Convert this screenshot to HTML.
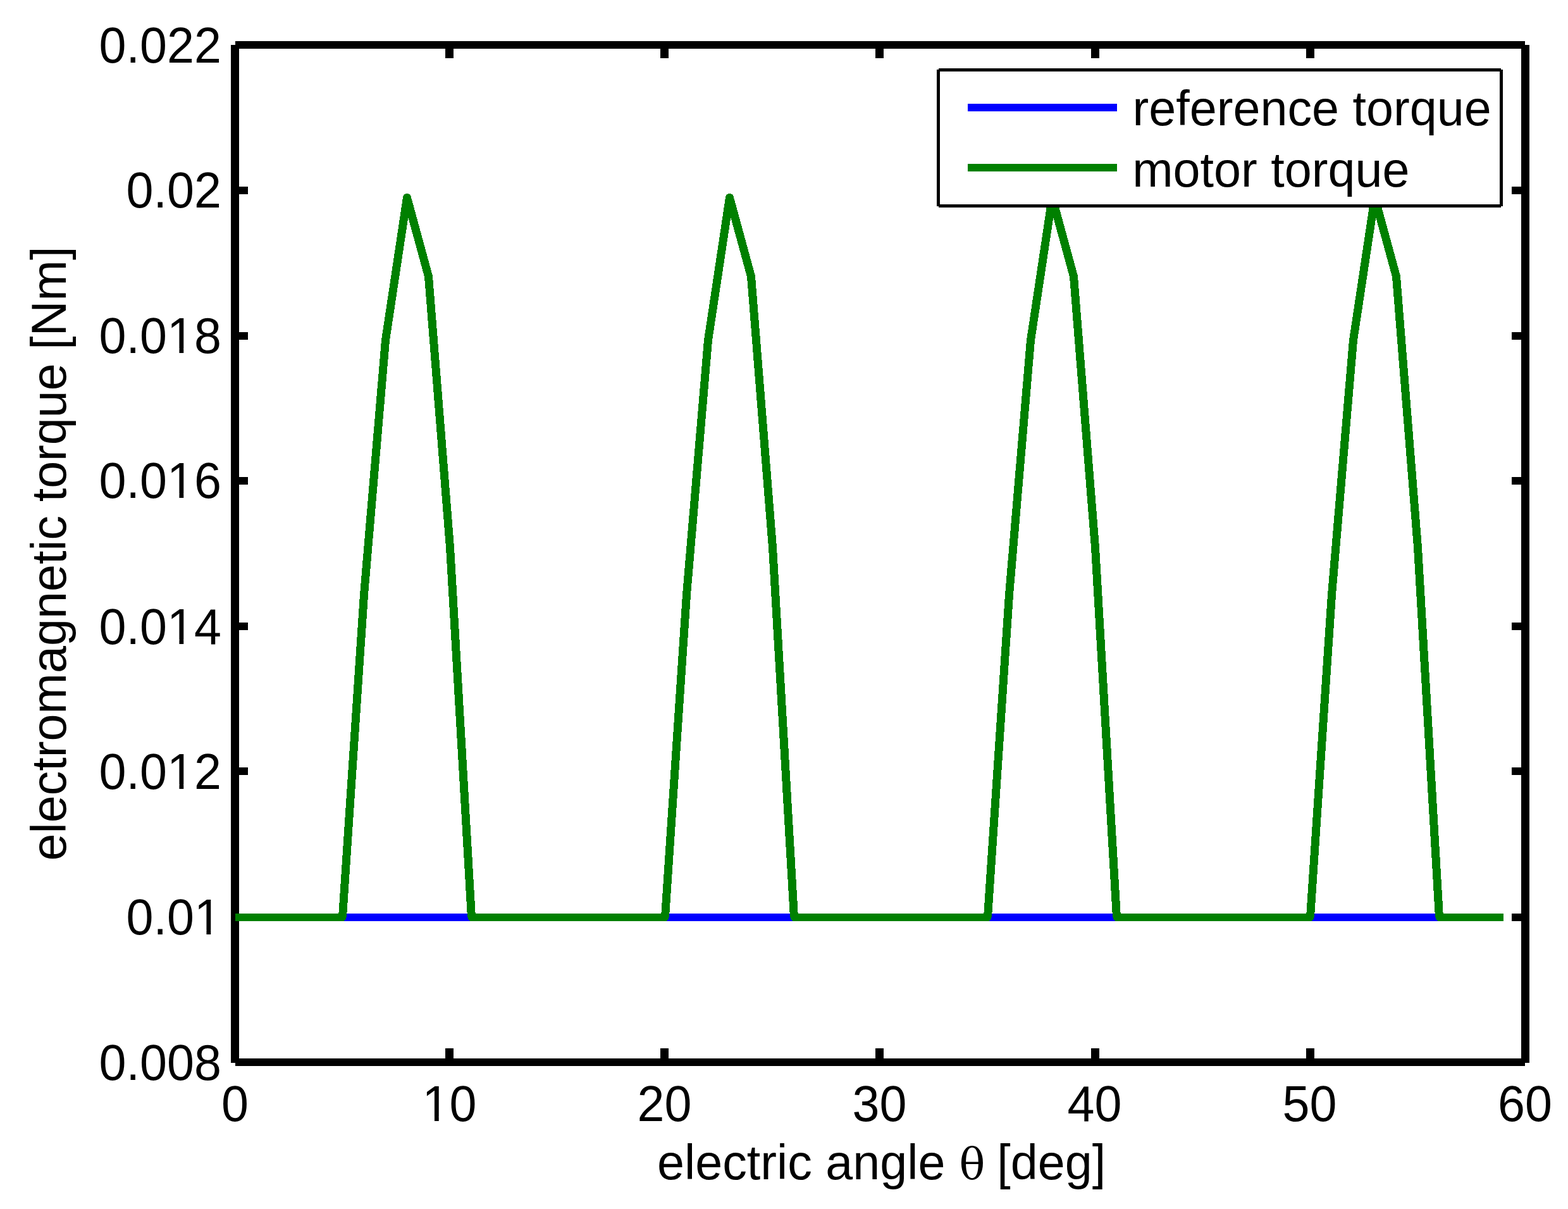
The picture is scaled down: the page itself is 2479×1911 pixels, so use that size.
<!DOCTYPE html>
<html lang="en">
<head>
<meta charset="utf-8">
<title>Electromagnetic torque vs electric angle</title>
<style>
html, body { margin: 0; padding: 0; background: #fff; }
body { width: 2479px; height: 1911px; }
svg { display: block; }
.t text { font-family: "Liberation Sans", sans-serif; font-size: 77.3px; fill: #000; }
.t .th { font-family: "DejaVu Serif", "Liberation Serif", serif; font-size: 68px; }
</style>
</head>
<body>
<svg width="2479" height="1911" viewBox="0 0 2479 1911">
<rect x="0" y="0" width="2479" height="1911" fill="#fff"/>
<g id="axes" fill="#000" shape-rendering="crispEdges">
<rect x="365" y="71" width="13" height="1609"/>
<rect x="2405" y="71" width="13" height="1609"/>
<rect x="372" y="65" width="2039" height="12"/>
<rect x="372" y="1673" width="2039" height="12"/>
<rect x="704" y="77" width="13" height="15"/>
<rect x="704" y="1657" width="13" height="16"/>
<rect x="1044" y="77" width="13" height="15"/>
<rect x="1044" y="1657" width="13" height="16"/>
<rect x="1384" y="77" width="13" height="15"/>
<rect x="1384" y="1657" width="13" height="16"/>
<rect x="1725" y="77" width="13" height="15"/>
<rect x="1725" y="1657" width="13" height="16"/>
<rect x="2065" y="77" width="13" height="15"/>
<rect x="2065" y="1657" width="13" height="16"/>
<rect x="378" y="295" width="14" height="12"/>
<rect x="2390" y="295" width="15" height="12"/>
<rect x="378" y="525" width="14" height="12"/>
<rect x="2390" y="525" width="15" height="12"/>
<rect x="378" y="754" width="14" height="12"/>
<rect x="2390" y="754" width="15" height="12"/>
<rect x="378" y="984" width="14" height="12"/>
<rect x="2390" y="984" width="15" height="12"/>
<rect x="378" y="1213" width="14" height="12"/>
<rect x="2390" y="1213" width="15" height="12"/>
<rect x="378" y="1444" width="14" height="12"/>
<rect x="2390" y="1444" width="15" height="12"/>
</g>
<g id="reference-torque" shape-rendering="crispEdges"><rect x="372" y="1444" width="2005" height="12" fill="#0000ff"/></g>
<clipPath id="above"><rect x="0" y="0" width="2479" height="1444"/></clipPath>
<g id="motor-torque" fill="none" stroke="#008000" stroke-linejoin="round" stroke-linecap="butt" shape-rendering="crispEdges"><polyline points="372,1450 541.5,1450 575.5,940 609.5,538 643.5,312.5 677.5,437 711.5,865 745.5,1450 1051.5,1450 1085.5,940 1119.5,538 1153.5,312.5 1187.5,437 1221.5,865 1255.5,1450 1561.5,1450 1595.5,940 1629.5,538 1663.5,312.5 1697.5,437 1731.5,865 1765.5,1450 2071.5,1450 2105.5,940 2139.5,538 2173.5,312.5 2207.5,437 2241.5,865 2275.5,1450 2377,1450" stroke-width="12"/><polyline points="372,1450 541.5,1450 575.5,940 609.5,538 643.5,312.5 677.5,437 711.5,865 745.5,1450 1051.5,1450 1085.5,940 1119.5,538 1153.5,312.5 1187.5,437 1221.5,865 1255.5,1450 1561.5,1450 1595.5,940 1629.5,538 1663.5,312.5 1697.5,437 1731.5,865 1765.5,1450 2071.5,1450 2105.5,940 2139.5,538 2173.5,312.5 2207.5,437 2241.5,865 2275.5,1450 2377,1450" stroke-width="13" clip-path="url(#above)"/></g>
<g id="legend" shape-rendering="crispEdges">
<rect x="1484" y="110" width="889" height="216" fill="#fff"/>
<rect x="1484" y="108" width="889" height="5" fill="#000"/>
<rect x="1484" y="323" width="889" height="5" fill="#000"/>
<rect x="1481" y="110" width="5" height="216" fill="#000"/>
<rect x="2371" y="110" width="5" height="216" fill="#000"/>
<rect x="1530" y="164" width="236" height="12" fill="#0000ff"/>
<rect x="1530" y="259" width="236" height="12" fill="#008000"/>
</g>
<g class="t">
<text transform="translate(1790.5,198.3) scale(1,1.015)">reference torque</text>
<text transform="translate(1790.2,294.5) scale(1,1.015)">motor torque</text>
<text transform="translate(350,98.8) scale(1,1.035)" text-anchor="end">0.022</text>
<text transform="translate(350,328) scale(1,1.035)" text-anchor="end">0.02</text>
<text transform="translate(350,557.8) scale(1,1.035)" text-anchor="end">0.018</text>
<text transform="translate(350,787) scale(1,1.035)" text-anchor="end">0.016</text>
<text transform="translate(350,1017.6) scale(1,1.035)" text-anchor="end">0.014</text>
<text transform="translate(350,1246.6) scale(1,1.035)" text-anchor="end">0.012</text>
<text transform="translate(350,1477) scale(1,1.035)" text-anchor="end">0.01</text>
<text transform="translate(350,1706.6) scale(1,1.035)" text-anchor="end">0.008</text>
<text transform="translate(371.5,1772) scale(1,1.035)" text-anchor="middle">0</text>
<text transform="translate(710.5,1772) scale(1,1.035)" text-anchor="middle">10</text>
<text transform="translate(1050.5,1772) scale(1,1.035)" text-anchor="middle">20</text>
<text transform="translate(1390.5,1772) scale(1,1.035)" text-anchor="middle">30</text>
<text transform="translate(1730.5,1772) scale(1,1.035)" text-anchor="middle">40</text>
<text transform="translate(2070.5,1772) scale(1,1.035)" text-anchor="middle">50</text>
<text transform="translate(2411,1772) scale(1,1.035)" text-anchor="middle">60</text>
<text transform="translate(0,1864) scale(1,1.015)"><tspan x="1039">electric angle </tspan><tspan class="th" x="1516.4">θ </tspan><tspan x="1576.2">[deg]</tspan></text>
<text transform="translate(104,875) rotate(-90) scale(1,1.015)" text-anchor="middle">electromagnetic torque [Nm]</text>
</g>
<g id="trim" fill="#fff">
<rect x="268" y="551.1" width="15.45" height="8.7"/>
<rect x="290.26" y="551.1" width="14.74" height="8.7"/>
<rect x="268" y="780.3" width="15.45" height="8.7"/>
<rect x="290.26" y="780.3" width="14.74" height="8.7"/>
<rect x="268" y="1010.9" width="15.45" height="8.7"/>
<rect x="290.26" y="1010.9" width="14.74" height="8.7"/>
<rect x="268" y="1239.9" width="15.45" height="8.7"/>
<rect x="290.26" y="1239.9" width="14.74" height="8.7"/>
<rect x="311" y="1470.3" width="15.45" height="8.7"/>
<rect x="333.26" y="1470.3" width="14.74" height="8.7"/>
<rect x="671" y="1765.3" width="15.94" height="8.7"/>
<rect x="693.75" y="1765.3" width="15.25" height="8.7"/>
</g>
</svg>
</body>
</html>
